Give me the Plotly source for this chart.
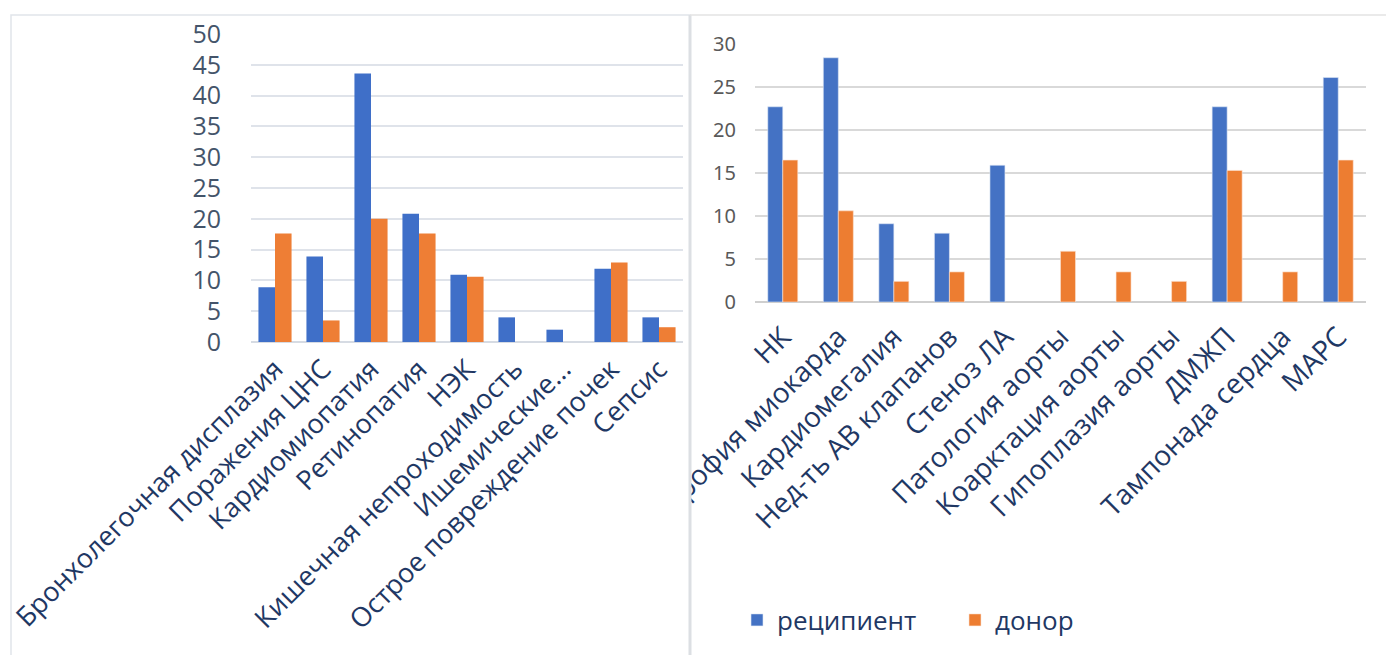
import plotly.graph_objects as go

# Left chart: complications in recipient vs donor (%)
left_categories = [
    "Бронхолегочная дисплазия",
    "Поражения ЦНС",
    "Кардиомиопатия",
    "Ретинопатия",
    "НЭК",
    "Кишечная непроходимость",
    "Ишемические...",
    "Острое повреждение почек",
    "Сепсис",
]
left_recipient = [8.9, 13.9, 43.6, 20.8, 10.9, 4.0, 2.0, 11.9, 4.0]
left_donor = [17.6, 3.5, 20.0, 17.6, 10.6, None, None, 12.9, 2.4]
left_ticks = [0, 5, 10, 15, 20, 25, 30, 35, 40, 45, 50]

# Right chart: cardiac findings in recipient vs donor (%)
right_categories = [
    "НК",
    "Гипертрофия миокарда",
    "Кардиомегалия",
    "Нед-ть АВ клапанов",
    "Стеноз ЛА",
    "Патология аорты",
    "Коарктация аорты",
    "Гипоплазия аорты",
    "ДМЖП",
    "Тампонада сердца",
    "МАРС",
]
right_recipient = [22.7, 28.4, 9.1, 8.0, 15.9, None, None, None, 22.7, None, 26.1]
right_donor = [16.5, 10.6, 2.4, 3.5, None, 5.9, 3.5, 2.4, 15.3, 3.5, 16.5]
right_ticks = [0, 5, 10, 15, 20, 25, 30]

series_names = ["реципиент", "донор"]

W, H = 1386, 655
BLUE_L, ORANGE_L = "#3f6fc8", "#ee7e35"
BLUE, ORANGE = "#4472c4", "#ed7d31"
NAVY = "#1f3864"
GRID = "#d9d9d9"

fig = go.Figure()

wl = 0.345
fig.add_trace(go.Bar(x=left_categories, y=left_recipient, name=series_names[0],
                     marker_color=BLUE_L, width=wl, offset=-wl,
                     xaxis="x", yaxis="y", showlegend=False))
fig.add_trace(go.Bar(x=left_categories, y=left_donor, name=series_names[1],
                     marker_color=ORANGE_L, width=wl, offset=0,
                     xaxis="x", yaxis="y", showlegend=False))

wr = 0.27
fig.add_trace(go.Bar(x=right_categories, y=right_recipient, name=series_names[0],
                     marker=dict(color=BLUE, line=dict(color="#dfe7f5", width=0.6)),
                     width=wr, offset=-wr, xaxis="x2", yaxis="y2"))
fig.add_trace(go.Bar(x=right_categories, y=right_donor, name=series_names[1],
                     marker=dict(color=ORANGE, line=dict(color="#fbe3d3", width=0.6)),
                     width=wr, offset=0, xaxis="x2", yaxis="y2"))


def px_x(p):
    return p / W


def px_y(p):
    return 1 - p / H


fig.update_layout(
    width=W, height=H,
    margin=dict(l=0, r=0, t=0, b=0),
    paper_bgcolor="white", plot_bgcolor="white",
    barmode="overlay",
    template="none",
    xaxis=dict(domain=[px_x(251), px_x(683)], anchor="y", tickangle=-45,
               tickfont=dict(family="Open Sans", size=27, color=NAVY),
               showgrid=False, showline=False, ticks="", automargin=False,
               ticklabelstandoff=5),
    yaxis=dict(domain=[px_y(342), px_y(34)], anchor="x", range=[0, 50],
               tickvals=left_ticks, showgrid=True, gridcolor="#dfe3ea", gridwidth=1.5,
               zeroline=True, zerolinecolor="#d6dbe3", zerolinewidth=2,
               tickfont=dict(family="Open Sans", size=25, color="#44546a"),
               showline=False, ticks="", automargin=False, ticklabelstandoff=29),
    xaxis2=dict(domain=[px_x(755), px_x(1366)], anchor="y2", tickangle=-45,
                tickfont=dict(family="Open Sans", size=28, color=NAVY),
                showgrid=False, showline=False, ticks="", automargin=False,
                ticklabelstandoff=12),
    yaxis2=dict(domain=[px_y(302), px_y(44)], anchor="x2", range=[0, 30],
                tickvals=right_ticks, showgrid=True, gridcolor=GRID, gridwidth=1.5,
                zeroline=True, zerolinecolor="#cfcfcf", zerolinewidth=2,
                tickfont=dict(family="Noto Sans", size=20, color="#595959"),
                showline=False, ticks="", automargin=False, ticklabelstandoff=18),
    legend=dict(orientation="h", x=px_x(737), y=px_y(620), xanchor="left", yanchor="middle",
                font=dict(family="Open Sans", size=26, color=NAVY),
                itemwidth=30, entrywidth=173, entrywidthmode="pixels",
                bgcolor="rgba(0,0,0,0)", tracegroupgap=0),
    showlegend=True,
    shapes=[
        # right panel covers the overflow of its first long label
        dict(type="rect", xref="paper", yref="paper", layer="above",
             x0=px_x(580), x1=px_x(689), y0=px_y(620), y1=px_y(440),
             fillcolor="white", line=dict(width=0)),
        # outer frame of the left panel
        dict(type="rect", xref="paper", yref="paper", layer="above",
             x0=px_x(11), x1=px_x(690), y0=px_y(660), y1=px_y(15),
             line=dict(color="#e1e5ea", width=1.5)),
        # divider between the panels
        dict(type="line", xref="paper", yref="paper", layer="above",
             x0=px_x(690), x1=px_x(690), y0=0, y1=px_y(15),
             line=dict(color="#dcdfe3", width=3)),
        dict(type="line", xref="paper", yref="paper", layer="above",
             x0=px_x(690), x1=1, y0=px_y(15), y1=px_y(15),
             line=dict(color="#e3e3e3", width=1.5)),
    ],
)

fig.write_html("out.html")
